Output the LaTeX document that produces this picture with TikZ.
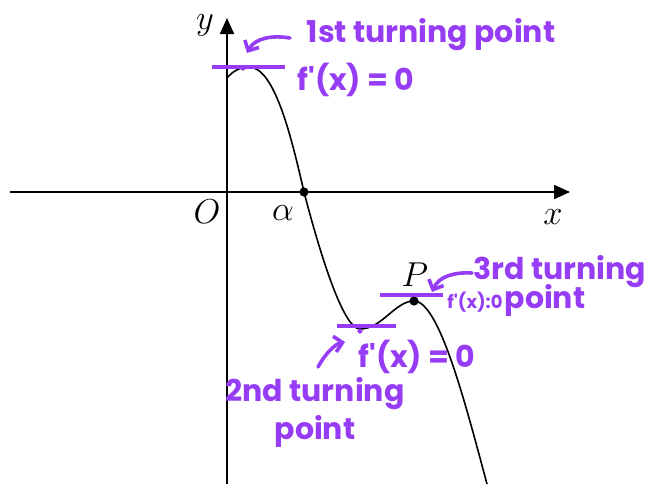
\documentclass[tikz,border=0pt]{standalone}
\usepackage{fontspec}
\newfontfamily\handfont{Poppins}
\usetikzlibrary{arrows.meta}
\definecolor{pen}{RGB}{150,60,245}

\begin{document}
\begin{tikzpicture}[x=0.5pt,y=0.5pt,
  hand/.style={pen,font=\handfont\bfseries\fontsize{15}{19}\selectfont},
  smallhand/.style={pen,inner sep=1pt,font=\handfont\bfseries\fontsize{9}{11}\selectfont},
  label/.style={font=\fontsize{16}{18}\selectfont},
  tangent/.style={pen,line width=2pt},
  penarrow/.style={pen,line width=1.8pt,line cap=round,-{Straight Barb[length=4pt,width=8pt]}},
  axis/.style={line width=1pt,-{Triangle[length=8pt,width=7pt]}}]
\useasboundingbox (-227,-292) rectangle (422,192);
\coordinate (xs) at (-217,0);
\coordinate (xe) at (343,0);
\coordinate (ys) at (0,-292);
\coordinate (ye) at (0,174);
\draw[axis] (xs) -- (xe);
\draw[axis] (ys) -- (ye);
\node[label] (xl) at (326,-25) {$x$};
\node[label] (yl) at (-22,167) {$y$};
\node[label] (ol) at (-20,-20) {$O$};
\node[label] (al) at (56,-21) {$\alpha$};
\node[label] (pl) at (188,-83) {$P$};
\draw[line width=0.8pt] (0,114) .. controls (6,121) and (13,125) .. (22,125)
  .. controls (48,125) and (65,52) .. (77,0)
  .. controls (90,-50) and (115,-137) .. (133,-137)
  .. controls (155,-137) and (168,-109) .. (187,-109)
  .. controls (212,-109) and (238,-210) .. (260,-292);
\fill (77,0) circle (2.3pt);
\fill (187,-109) circle (2.3pt);
\draw[tangent] (-15,125) -- (58,125);
\draw[tangent] (110,-134) -- (169,-134);
\draw[tangent] (153,-103) -- (216,-103);
\fill[pen] (16,124) circle (1.3pt);
\fill[pen] (133,-139) circle (1.3pt);
\node[hand] (tp1) at (204,157) {1st turning point};
\node[hand] (fd1) at (129,112) {f'(x) = 0};
\node[hand,align=center] (tp2) at (88,-220) {2nd turning\\point};
\node[hand] (fd2) at (190,-165) {f'(x) = 0};
\node[hand] (tp3) at (333,-80) {3rd turning};
\node[hand] (tp3b) at (318,-108) {point};
\node[smallhand] (fd3) at (248,-110) {f'(x):0};
\coordinate (a1s) at (63,154);
\coordinate (a1e) at (20,139);
\coordinate (a2s) at (91,-175);
\coordinate (a2e) at (118,-150);
\coordinate (a3s) at (245,-81);
\coordinate (a3e) at (205,-100);
\draw[penarrow] (a1s) .. controls (45,157) and (28,154) .. (a1e);
\draw[penarrow] (a2s) .. controls (98,-162) and (108,-152) .. (a2e);
\draw[penarrow] (a3s) .. controls (228,-80) and (212,-84) .. (a3e);
\end{tikzpicture}
\end{document}
